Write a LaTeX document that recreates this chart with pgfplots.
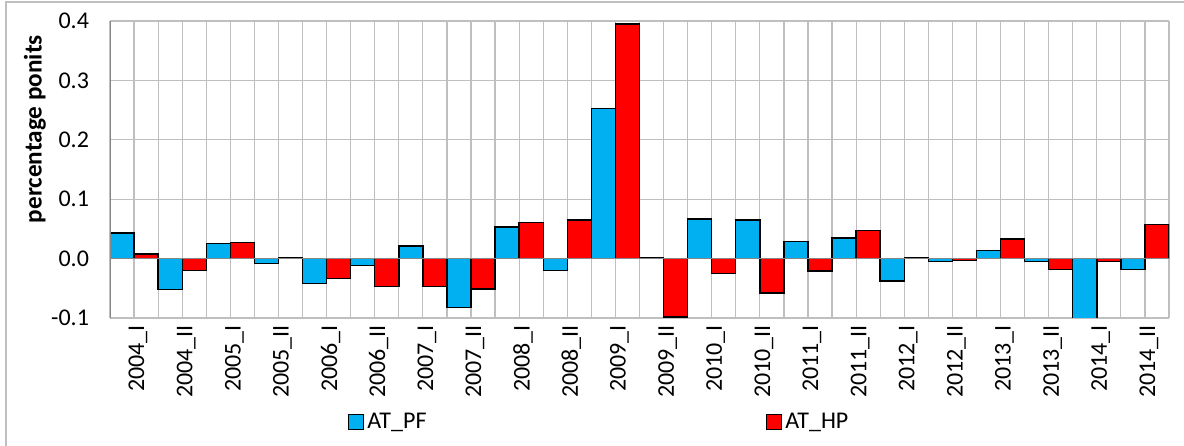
\documentclass[border=0pt]{standalone}
\usepackage{pgfplots}
\pgfplotsset{compat=1.18}
\usepackage{fontspec}
\setmainfont{Carlito}
\definecolor{pfblue}{RGB}{0,176,240}
\definecolor{hpred}{RGB}{255,0,0}
\definecolor{gridgray}{RGB}{191,191,191}
\definecolor{axgray}{RGB}{134,134,134}
\begin{document}
\begin{tikzpicture}[font=\fontsize{12}{14.4}\selectfont]
\begin{axis}[
  set layers,
  at={(55pt,63.5pt)}, anchor=south west,
  scale only axis, width=529.5pt, height=148.5pt,
  ybar=0pt, bar width=0.5,
  xmin=-0.5, xmax=21.5, ymin=-0.1, ymax=0.4,
  clip=true,
  xtick={0,...,21},
  xticklabels={2004\_I,2004\_II,2005\_I,2005\_II,2006\_I,2006\_II,2007\_I,2007\_II,2008\_I,2008\_II,2009\_I,2009\_II,2010\_I,2010\_II,2011\_I,2011\_II,2012\_I,2012\_II,2013\_I,2013\_II,2014\_I,2014\_II},
  minor xtick={-0.5,0.5,...,21.5},
  ytick={-0.1,0,0.1,0.2,0.3,0.4},
  yticklabels={-0.1,0.0,0.1,0.2,0.3,0.4},
  xmajorgrids, xminorgrids, ymajorgrids,
  major grid style={draw=gridgray, line width=0.6pt},
  minor grid style={draw=gridgray, line width=0.6pt},
  major tick length=0pt, minor tick length=0pt,
  axis line style={draw=none},
  xticklabel style={rotate=90, anchor=east, yshift=-2pt},
  yticklabel style={xshift=-7pt},
  ylabel={\fontsize{12.6}{14}\selectfont\bfseries percentage ponits},
  ylabel style={at={(axis description cs:-0.0708,0.636)}, anchor=center, rotate=0},
  legend columns=2,
  legend style={draw=none, fill=none, at={(axis description cs:0.4627,-0.350)}, anchor=center,
    /tikz/every even column/.append style={column sep=167.5pt},
    nodes={inner sep=2pt}},
  legend image code/.code={\draw[#1, draw=black, line width=0.4pt] (0pt,-3.75pt) rectangle (7.5pt,3.75pt);},
]
\addplot[fill=pfblue, draw=black, line width=0.7pt] coordinates {
(0,0.043) (1,-0.052) (2,0.025) (3,-0.008) (4,-0.042) (5,-0.012) (6,0.021) (7,-0.082)
(8,0.053) (9,-0.020) (10,0.253) (11,0.001) (12,0.067) (13,0.065) (14,0.029) (15,0.035)
(16,-0.038) (17,-0.0045) (18,0.0135) (19,-0.0045) (20,-0.103) (21,-0.0185)};
\addplot[fill=hpred, draw=black, line width=0.7pt] coordinates {
(0,0.0075) (1,-0.020) (2,0.0275) (3,0.002) (4,-0.033) (5,-0.047) (6,-0.047) (7,-0.051)
(8,0.061) (9,0.065) (10,0.395) (11,-0.098) (12,-0.025) (13,-0.058) (14,-0.021) (15,0.047)
(16,0.001) (17,-0.003) (18,0.033) (19,-0.0185) (20,-0.0045) (21,0.057)};
\legend{AT\_PF, AT\_HP}
\draw[axgray, line width=0.9pt] (axis cs:-0.5,0) -- (axis cs:21.5,0);
\draw[axgray, line width=0.9pt] (axis cs:-0.5,-0.1) -- (axis cs:-0.5,0.4);
\end{axis}
\draw[gridgray, line width=0.6pt] (3pt,-5pt) -- (3pt,221.5pt) -- (600pt,221.5pt);
\pgfresetboundingbox
\path[use as bounding box] (0,0) rectangle (592pt,222.5pt);
\end{tikzpicture}
\end{document}
